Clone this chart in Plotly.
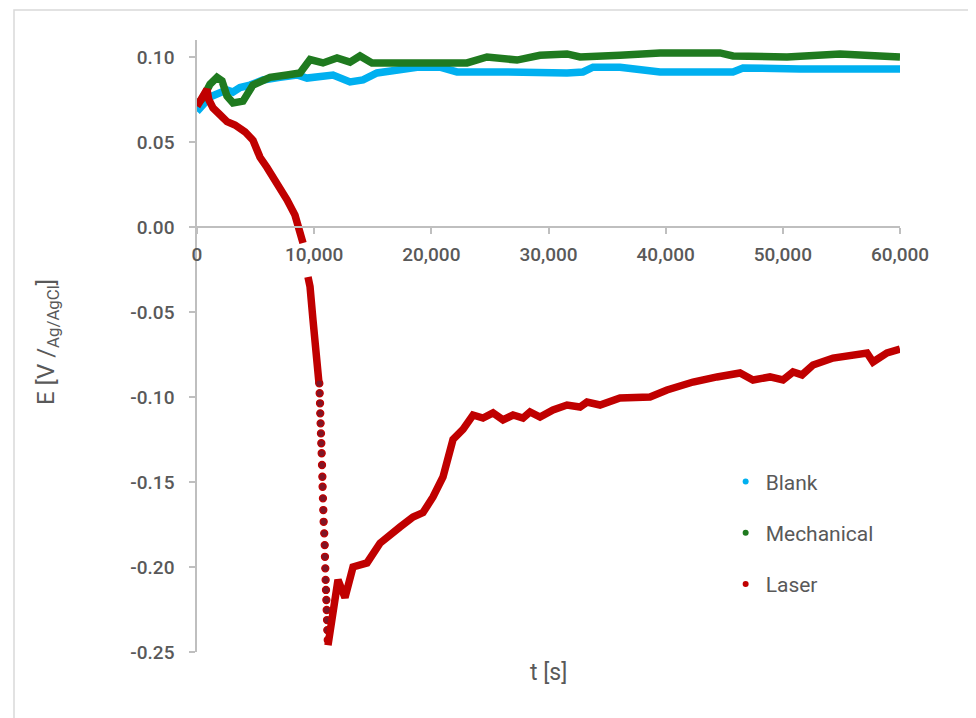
import plotly.graph_objects as go

# ---------------- data ----------------
blank_t = [0, 512, 1110, 1963, 2560, 3073, 3670, 4524, 5633, 7084, 8535, 9389, 10498,
           11608, 13059, 14168, 15363, 16729, 18777, 20740, 22191, 25861, 28678, 31580,
           32945, 33799, 36103, 39517, 45748, 46601, 51466, 60000]
blank_e = [0.068, 0.072, 0.0765, 0.079, 0.0806, 0.0794, 0.082, 0.0835, 0.0865, 0.088,
           0.0894, 0.0876, 0.088, 0.0894, 0.0853, 0.0865, 0.0906, 0.0924, 0.094, 0.094,
           0.0912, 0.0912, 0.0906, 0.0906, 0.0912, 0.094, 0.094, 0.0912, 0.0912, 0.0935,
           0.093, 0.093]

mech_t = [0, 512, 1110, 1707, 2134, 2560, 3073, 3926, 4780, 6231, 7682, 8791, 9645,
          10754, 11949, 13059, 13913, 14937, 17326, 20143, 23045, 24752, 27312, 29275,
          31580, 32689, 34396, 36103, 39517, 44638, 45748, 50357, 54880, 58550, 60000]
mech_e = [0.072, 0.076, 0.084, 0.088, 0.086, 0.077, 0.073, 0.074, 0.0835, 0.088, 0.0894,
          0.0906, 0.0985, 0.0965, 0.0994, 0.097, 0.1006, 0.0965, 0.0965, 0.097, 0.0965,
          0.100, 0.0982, 0.101, 0.1018, 0.100, 0.101, 0.101, 0.1024, 0.1024, 0.1006,
          0.100, 0.1018, 0.1006, 0.100]

# Laser: slow decline (dense points; no points recorded between -0.009 and -0.029 V),
# fast drop (sparse points), recovery (dense points)
laser_t_early = [0, 256, 683, 853, 1000, 1366, 1963, 2560, 3243, 4097, 4780, 5377, 5975,
                 6828, 7682, 8364, 8791, 9047, None, 9474, 9645, 9900, 10242, 10413]
laser_e_early = [0.071, 0.0735, 0.0794, 0.081, 0.075, 0.070, 0.066, 0.062, 0.060, 0.056,
                 0.051, 0.041, 0.035, 0.026, 0.016, 0.007, -0.002, -0.0094, None, -0.0294,
                 -0.035, -0.0547, -0.074, -0.092]

laser_t_fast = [10440, 10470, 10500, 10520, 10550, 10580, 10610, 10640, 10670, 10700,
                10720, 10750, 10780, 10810, 10860, 10900, 10920, 10950, 10980, 11010,
                11040, 11070, 11100, 11120, 11160]
laser_e_fast = [-0.0920, -0.0978, -0.1037, -0.1096, -0.1155, -0.1214, -0.1272, -0.1331,
                -0.1400, -0.1469, -0.1528, -0.1596, -0.1665, -0.1734, -0.1802, -0.1871,
                -0.1940, -0.2008, -0.2076, -0.2135, -0.2194, -0.2253, -0.2312, -0.2371,
                -0.2429]

laser_t_late = [11181, 11608, 12034, 12632, 13315, 14510, 15619, 17326, 18436, 19289,
                20143, 20996, 21850, 22703, 23557, 24410, 25264, 26117, 26971, 27824,
                28422, 29275, 30385, 31580, 32689, 33287, 34396, 36103, 38664, 40115,
                42334, 44382, 46345, 47455, 48906, 50015, 50869, 51637, 52576, 54283,
                56587, 57185, 57697, 58892, 60000]
laser_e_late = [-0.246, -0.227, -0.2076, -0.218, -0.200, -0.1976, -0.186, -0.1765,
                -0.1706, -0.168, -0.1588, -0.147, -0.125, -0.119, -0.1106, -0.1124,
                -0.1094, -0.1135, -0.1106, -0.1124, -0.1088, -0.1118, -0.1076, -0.1047,
                -0.1059, -0.103, -0.1047, -0.1006, -0.100, -0.0959, -0.0912, -0.0882,
                -0.0859, -0.090, -0.0882, -0.090, -0.0853, -0.087, -0.0812, -0.0771,
                -0.0741, -0.0741, -0.0794, -0.0741, -0.0718]

series_names = ["Blank", "Mechanical", "Laser"]
x_tickvals = [0, 10000, 20000, 30000, 40000, 50000, 60000]
x_ticktext = ["0", "10,000", "20,000", "30,000", "40,000", "50,000", "60,000"]
y_tickvals = [0.10, 0.05, 0.00, -0.05, -0.10, -0.15, -0.20, -0.25]
y_ticktext = ["0.10", "0.05", "0.00", "-0.05", "-0.10", "-0.15", "-0.20", "-0.25"]

# ---------------- styling ----------------
C_BLANK = "#00B0F0"
C_MECH = "#1F7A1F"
C_LASER = "#C00000"
GRAY_TXT = "#595959"
AXIS_C = "#BFBFBF"
FONT = "Roboto"
LW = 7.5

YMIN, YMAX = -0.25, 0.11

fig = go.Figure()

fig.add_trace(go.Scatter(x=blank_t, y=blank_e, mode="lines", showlegend=False,
                         line=dict(color=C_BLANK, width=LW)))
fig.add_trace(go.Scatter(x=mech_t, y=mech_e, mode="lines", showlegend=False,
                         line=dict(color=C_MECH, width=LW)))
fig.add_trace(go.Scatter(x=laser_t_early, y=laser_e_early, mode="lines", showlegend=False,
                         connectgaps=False, line=dict(color=C_LASER, width=LW)))
fig.add_trace(go.Scatter(x=laser_t_fast, y=laser_e_fast, mode="markers", showlegend=False,
                         marker=dict(color="#7E1626", size=7,
                                     line=dict(color=C_LASER, width=1.3))))
fig.add_trace(go.Scatter(x=laser_t_late, y=laser_e_late, mode="lines", showlegend=False,
                         line=dict(color=C_LASER, width=LW)))

# legend entries (small dots)
for name, col in zip(series_names, [C_BLANK, C_MECH, C_LASER]):
    fig.add_trace(go.Scatter(x=[None], y=[None], mode="markers", name=name,
                             legendgroup=name,
                             marker=dict(color=col, size=6)))

zero_pos = (0 - YMIN) / (YMAX - YMIN)

fig.update_layout(
    width=968, height=710,
    margin=dict(l=189, r=76, t=32, b=66),
    paper_bgcolor="white", plot_bgcolor="white",
    font=dict(family=FONT, color=GRAY_TXT),
    showlegend=True,
    legend=dict(x=0.752, y=0.3115, xanchor="left", yanchor="top",
                font=dict(size=21, color=GRAY_TXT, family=FONT),
                tracegroupgap=21, bgcolor="rgba(0,0,0,0)", itemwidth=30),
    xaxis=dict(range=[0, 60000], anchor="free", position=zero_pos,
               tickvals=x_tickvals, ticktext=x_ticktext,
               showgrid=False, zeroline=False, showline=True,
               linecolor=AXIS_C, linewidth=1.5,
               ticks="outside", ticklen=6, tickcolor=AXIS_C, tickwidth=1.5,
               ticklabelstandoff=4,
               tickfont=dict(size=19, color=GRAY_TXT, family=FONT, weight=500)),
    yaxis=dict(range=[YMIN, YMAX], tickvals=y_tickvals, ticktext=y_ticktext,
               showgrid=False, zeroline=False, showline=True,
               linecolor=AXIS_C, linewidth=1.5,
               ticks="outside", ticklen=6, tickcolor=AXIS_C, tickwidth=1.5,
               ticklabelstandoff=11,
               tickfont=dict(size=19, color=GRAY_TXT, family=FONT, weight=500)),
)

fig.add_annotation(text="t [s]", xref="paper", yref="paper", x=0.5, y=-0.034,
                   xanchor="center", yanchor="middle", showarrow=False,
                   font=dict(size=23, color=GRAY_TXT, family=FONT))
fig.add_annotation(text="E [V /<sub>Ag/AgCl</sub>]", xref="paper", yref="paper",
                   x=-0.2134, y=0.5065, xanchor="center", yanchor="middle",
                   textangle=-90, showarrow=False,
                   font=dict(size=24, color=GRAY_TXT, family=FONT))

# outer light-gray frame
fig.add_shape(type="rect", xref="paper", yref="paper",
              x0=(14 - 197) / 703, x1=(990 - 197) / 703,
              y0=(652 - 730) / 612, y1=(652 - 10) / 612,
              line=dict(color="#D9D9D9", width=1.5), fillcolor="rgba(0,0,0,0)",
              layer="below")

fig.write_html("out.html")
